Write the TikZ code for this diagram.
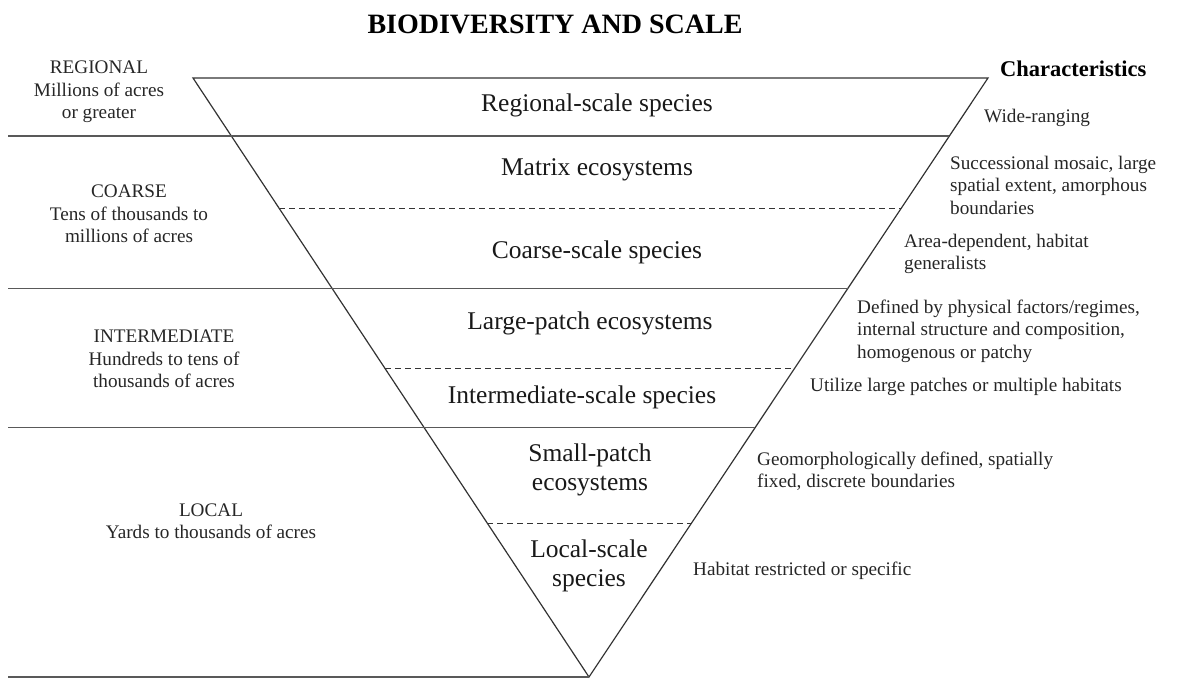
\documentclass[tikz,border=0pt]{standalone}
\usepackage{fontspec}
\setmainfont{Liberation Serif}
\usetikzlibrary{calc}
\begin{document}
\begin{tikzpicture}[x=1pt,y=-1pt,
  edge/.style={line width=1.2pt, draw=black!80},
  rule/.style={line width=1.6pt, draw=black!65},
  dashrule/.style={line width=1.3pt, draw=black!80, dash pattern=on 6pt off 4pt},
  mid/.style={inner sep=0, text=black!90, font=\fontsize{25.5}{29}\selectfont, align=center},
  side/.style={inner sep=0, text=black!85, font=\fontsize{19.2}{22.5}\selectfont, align=center},
  note/.style={inner sep=0, text=black!85, font=\fontsize{19.2}{22.5}\selectfont, align=left, anchor=west}]
\useasboundingbox (0,0) rectangle (1178,681);
% triangle
\coordinate (TL) at (193,78);
\coordinate (TR) at (988,78);
\coordinate (A) at (589,677);
\coordinate (L) at (8,0);
\draw[edge] (TL) -- (TR) -- (A) -- cycle;
% solid rules
\coordinate (r1) at ($(TR)!0.09667!(A)$);
\coordinate (r2) at ($(TR)!0.35167!(A)$);
\coordinate (r3) at ($(TR)!0.58333!(A)$);
\draw[rule] (L |- r1) -- (r1);
\draw[rule] (L |- r2) -- (r2);
\draw[rule] (L |- r3) -- (r3);
\draw[rule] (L |- A) -- (A);
% dashed rules
\coordinate (d1l) at ($(TL)!0.21833!(A)$);
\coordinate (d1r) at ($(TR)!0.21833!(A)$);
\coordinate (d2l) at ($(TL)!0.485!(A)$);
\coordinate (d2r) at ($(TR)!0.485!(A)$);
\coordinate (d3l) at ($(TL)!0.74333!(A)$);
\coordinate (d3r) at ($(TR)!0.74333!(A)$);
\draw[dashrule] (d1l) -- (d1r);
\draw[dashrule] (d2l) -- (d2r);
\draw[dashrule] (d3l) -- (d3r);
% title
\node[inner sep=0, font=\fontsize{28}{32}\selectfont\bfseries] (title) at (555,24) {BIODIVERSITY AND SCALE};
\node[inner sep=0, anchor=west, font=\fontsize{22.5}{26}\selectfont\bfseries] (char) at (1000,69) {Characteristics};
% middle labels
\node[mid] (m1) at (597,105) {Regional-scale species};
\node[mid] (m2) at (597,170) {Matrix ecosystems};
\node[mid] (m3) at (597,252) {Coarse-scale species};
\node[mid] (m4) at (590,323) {Large-patch ecosystems};
\node[mid] (m5) at (582,397) {Intermediate-scale species};
\node[mid] (m6) at (590,470) {Small-patch\\ecosystems};
\node[mid] (m7) at (589,566) {Local-scale\\species};
% left labels
\node[side] (s1) at (99,92) {REGIONAL\\Millions of acres\\or greater};
\node[side] (s2) at (129,214) {COARSE\\Tens of thousands to\\millions of acres};
\node[side] (s3) at (164,359) {INTERMEDIATE\\Hundreds to tens of\\thousands of acres};
\node[side] (s4) at (211,521) {LOCAL\\Yards to thousands of acres};
% right notes
\node[note] (n1) at (984,118) {Wide-ranging};
\node[note] (n2) at (950,185) {Successional mosaic, large\\spatial extent, amorphous\\boundaries};
\node[note] (n3) at (904,254) {Area-dependent, habitat\\generalists};
\node[note] (n4) at (857,331) {Defined by physical factors/regimes,\\internal structure and composition,\\homogenous or patchy};
\node[note] (n5) at (810,387) {Utilize large patches or multiple habitats};
\node[note] (n6) at (757,471) {Geomorphologically defined, spatially\\fixed, discrete boundaries};
\node[note] (n7) at (693,571) {Habitat restricted or specific};
\end{tikzpicture}
\end{document}
